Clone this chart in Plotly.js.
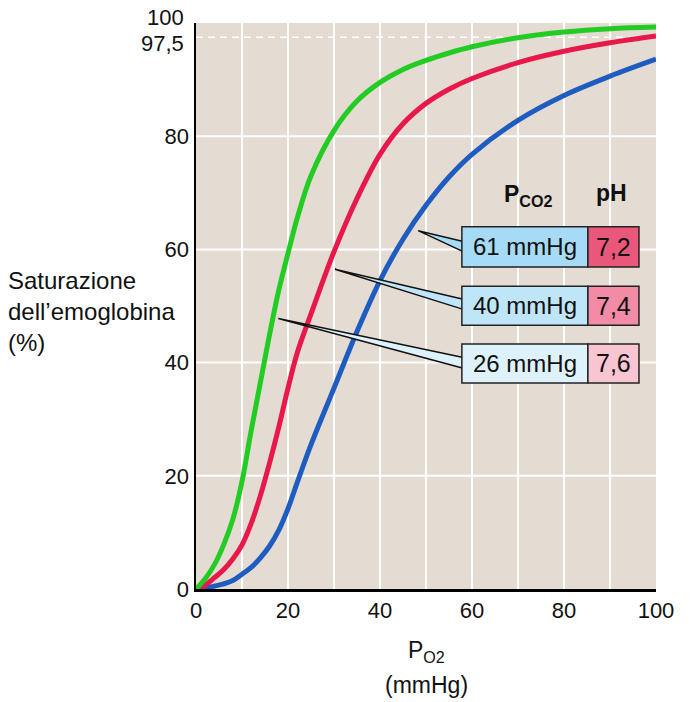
<!DOCTYPE html>
<html>
<head>
<meta charset="utf-8">
<script src="https://cdn.plot.ly/plotly-3.0.1.min.js"></script>
<style>
  html, body { margin: 0; padding: 0; background: #ffffff; }
  #chart { width: 693px; height: 702px; }
</style>
</head>
<body>
<div id="chart"></div>
<script>
// ---- data ----
const po2 = [0, 2, 4, 6, 8, 10, 12, 14, 16, 18, 20, 22, 25, 30, 35, 40, 45, 50, 55, 60, 70, 80, 90, 100];
const satPh76 = [0, 1.8, 4.3, 7.8, 12.3, 19, 28, 36.5, 45, 52.8, 59.3, 65.5, 73, 81, 86.2, 89.5, 91.8, 93.4, 94.7, 95.8, 97.4, 98.4, 99, 99.3];
const satPh74 = [0, 0.7, 2, 3.4, 5.3, 7.8, 11.6, 16.5, 22.3, 28.6, 35.5, 41.7, 48.6, 59.6, 69, 76.8, 82.2, 85.8, 88.3, 90.2, 93, 95, 96.5, 97.7];
const satPh72 = [0, 0.2, 0.5, 0.9, 1.5, 2.6, 3.8, 5.5, 7.6, 10.4, 14.2, 18.8, 25.5, 35.5, 45.5, 54.5, 61.8, 67.8, 72.8, 76.8, 82.8, 87.2, 90.6, 93.6];

const xTickVals = [0, 20, 40, 60, 80, 100];
const yTickVals = [0, 20, 40, 60, 80];
const yTopTicks = [100, 97.5];
const yTopText = ['100', '97,5'];
const yGridVals = [20, 40, 60, 80];
const refLine = 97.5;

const pco2Labels = ['61 mmHg', '40 mmHg', '26 mmHg'];
const phLabels = ['7,2', '7,4', '7,6'];
const headerLabels = ['<b>P<sub>CO2</sub></b>', '<b>pH</b>'];

// ---- layout/styling (positions in data units of the axes) ----
const FONT = '"Liberation Sans", Arial, Helvetica, sans-serif';
const curveColors = { ph76: '#22cc22', ph74: '#e8184a', ph72: '#1f5cc2' };
const boxFill = ['#a6dbf5', '#bfe6f8', '#def2fb'];
const phFill = ['#e9587b', '#f18ba6', '#f8c6d3'];
const boxX = [57.8, 85.2, 96.3];          // left, split, right
const boxY = [[64.0, 56.9], [53.5, 46.6], [43.3, 36.4]]; // top, bottom
const tips = [[48.3, 63.3], [30.2, 56.5], [17.9, 47.8]];
const bases = [[61.4, 59.6], [51.2, 49.4], [40.9, 39.0]];
const topTickShift = [6, -6];

const lineStyle = c => ({ color: c, width: 5, shape: 'spline', smoothing: 1 });
const traces = [
  { x: po2, y: satPh72, mode: 'lines', line: lineStyle(curveColors.ph72), hoverinfo: 'skip', showlegend: false },
  { x: po2, y: satPh74, mode: 'lines', line: lineStyle(curveColors.ph74), hoverinfo: 'skip', showlegend: false },
  { x: po2, y: satPh76, mode: 'lines', line: lineStyle(curveColors.ph76), hoverinfo: 'skip', showlegend: false }
];

const shapes = [];
yGridVals.forEach(v => shapes.push({ type: 'line', xref: 'x', yref: 'y', x0: 0, x1: 100, y0: v, y1: v, line: { color: '#ffffff', width: 2 }, layer: 'below' }));
shapes.push({ type: 'line', xref: 'x', yref: 'y', x0: 0, x1: 100, y0: refLine, y1: refLine, line: { color: '#ffffff', width: 1.5, dash: '7px,5px' }, layer: 'below' });

const annotations = [];
pco2Labels.forEach((lab, i) => {
  const [t, b] = boxY[i];
  shapes.push({ type: 'path', xref: 'x', yref: 'y',
    path: `M ${boxX[0] + 0.3},${bases[i][0]} L ${tips[i][0]},${tips[i][1]} L ${boxX[0] + 0.3},${bases[i][1]} Z`,
    fillcolor: boxFill[i], line: { color: '#111111', width: 1.4 } });
  shapes.push({ type: 'rect', xref: 'x', yref: 'y', x0: boxX[0], x1: boxX[1], y0: b, y1: t,
    fillcolor: boxFill[i], line: { color: '#222222', width: 1.5 } });
  shapes.push({ type: 'rect', xref: 'x', yref: 'y', x0: boxX[1], x1: boxX[2], y0: b, y1: t,
    fillcolor: phFill[i], line: { color: '#222222', width: 1.5 } });
  annotations.push({ xref: 'x', yref: 'y', x: (boxX[0] + boxX[1]) / 2, y: (t + b) / 2, text: lab, showarrow: false,
    font: { family: FONT, size: 24, color: '#111111' }, xanchor: 'center', yanchor: 'middle' });
  annotations.push({ xref: 'x', yref: 'y', x: (boxX[1] + boxX[2]) / 2, y: (t + b) / 2, text: phLabels[i], showarrow: false,
    font: { family: FONT, size: 25, color: '#111111' }, xanchor: 'center', yanchor: 'middle' });
});
annotations.push({ xref: 'x', yref: 'y', x: 72.2, y: 69.5, text: headerLabels[0], showarrow: false,
  font: { family: FONT, size: 23, color: '#111111' }, xanchor: 'center', yanchor: 'middle' });
annotations.push({ xref: 'x', yref: 'y', x: 90.4, y: 70.0, text: headerLabels[1], showarrow: false,
  font: { family: FONT, size: 23, color: '#111111' }, xanchor: 'center', yanchor: 'middle' });
// top tick labels placed apart so they don't collide
yTopTicks.forEach((v, i) => annotations.push({ xref: 'paper', yref: 'y', x: 0, y: v, xshift: -10, yshift: topTickShift[i],
  text: yTopText[i], showarrow: false, xanchor: 'right', yanchor: 'middle', font: { family: FONT, size: 22, color: '#111111' } }));
// axis titles
annotations.push({ xref: 'paper', yref: 'paper', x: 0.5, y: -0.11, text: 'P<sub>O2</sub>', showarrow: false,
  font: { family: FONT, size: 23, color: '#111111' }, xanchor: 'center', yanchor: 'middle' });
annotations.push({ xref: 'paper', yref: 'paper', x: 0.5, y: -0.17, text: '(mmHg)', showarrow: false,
  font: { family: FONT, size: 23, color: '#111111' }, xanchor: 'center', yanchor: 'middle' });
annotations.push({ xref: 'paper', yref: 'paper', x: -0.413, y: 0.491, text: 'Saturazione<br>dell’emoglobina<br>(%)', showarrow: false,
  align: 'left', font: { family: FONT, size: 24, color: '#111111' }, xanchor: 'left', yanchor: 'middle' });

const layout = {
  width: 693, height: 702, autosize: false,
  margin: { l: 196, r: 37, t: 23, b: 113, pad: 0 },
  paper_bgcolor: '#ffffff',
  plot_bgcolor: '#e4dbd3',
  font: { family: FONT, size: 22, color: '#111111' },
  showlegend: false,
  xaxis: {
    range: [0, 100], tickvals: xTickVals, ticktext: xTickVals.map(String),
    showgrid: true, gridcolor: '#ffffff', gridwidth: 2,
    minor: { dtick: 10, showgrid: true, gridcolor: '#ffffff', gridwidth: 2 },
    zeroline: false, showline: true, linecolor: '#000000', linewidth: 2.5,
    ticks: '', tickfont: { family: FONT, size: 22, color: '#111111' }, fixedrange: true
  },
  yaxis: {
    range: [0, 100], tickvals: yTickVals, ticktext: yTickVals.map(String),
    showgrid: false, zeroline: false, showline: true, linecolor: '#000000', linewidth: 2.5,
    ticks: '', tickfont: { family: FONT, size: 22, color: '#111111' }, fixedrange: true
  },
  shapes: shapes,
  annotations: annotations
};

Plotly.newPlot('chart', traces, layout, { displayModeBar: false, staticPlot: true });
</script>
</body>
</html>
